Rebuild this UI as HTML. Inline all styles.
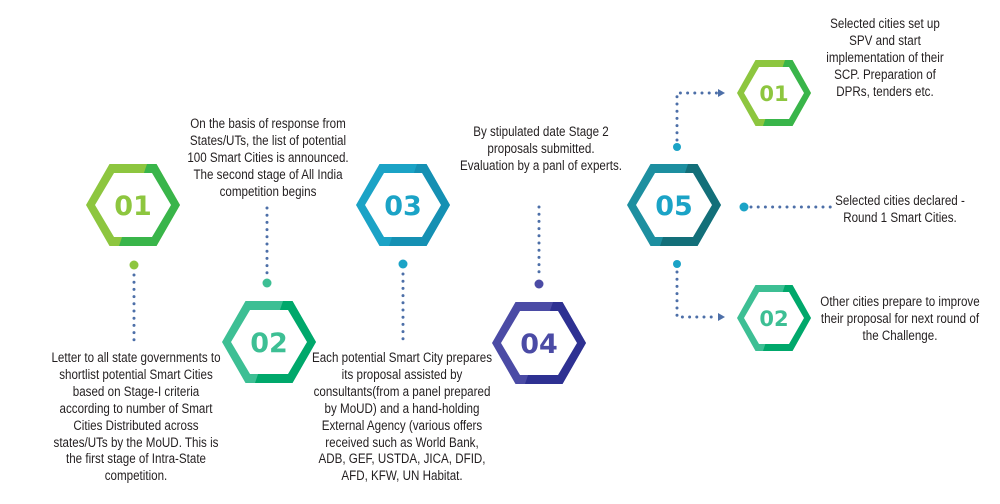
<!DOCTYPE html>
<html><head><meta charset="utf-8"><style>
html,body{margin:0;padding:0;background:#fff;}
#w{position:relative;width:1000px;height:504px;overflow:hidden;font-family:"Liberation Sans",sans-serif;}
.t{position:absolute;text-align:center;font-size:13.5px;line-height:16.9px;color:#231f20;white-space:nowrap;transform:scaleX(0.86);transform-origin:center top;}
svg{position:absolute;left:0;top:0;}
</style></head><body><div id="w">
<svg width="1000" height="504" viewBox="0 0 1000 504">
<g fill="none" stroke="#4d6fa8" stroke-width="3" stroke-linecap="round" stroke-dasharray="0 7.2">
<line x1="134" y1="275" x2="134" y2="340"/>
<line x1="267" y1="208" x2="267" y2="275"/>
<line x1="403" y1="274" x2="403" y2="342"/>
<line x1="539" y1="207" x2="539" y2="276"/>
<polyline points="677,140 677,93 718,93"/>
<line x1="751" y1="207" x2="832" y2="207"/>
<polyline points="677,272 677,317 718,317"/>
</g>
<g fill="#4d6fa8"><polygon points="718,89 725,93 718,97"/><polygon points="718,313 725,317 718,321"/></g>
<circle cx="134" cy="265" r="4.5" fill="#8dc63f"/>
<circle cx="267" cy="283" r="4.5" fill="#3dbf94"/>
<circle cx="403" cy="264" r="4.5" fill="#1ba3c6"/>
<circle cx="539" cy="284" r="4.5" fill="#4b4ba5"/>
<circle cx="677" cy="147" r="4" fill="#1ba3c6"/>
<circle cx="744" cy="207" r="4.5" fill="#1ba3c6"/>
<circle cx="677" cy="264" r="4" fill="#1ba3c6"/>

<polygon points="86,205 109.5,164 156.5,164 180,205 156.5,246 109.5,246" fill="#8dc63f"/>
<polygon points="147,164 156.5,164 180,205 156.5,246 119,246" fill="#39b54a"/>
<polygon points="95,205 114,173 152,173 171,205 152,237 114,237" fill="#fff"/>

<polygon points="222,342 245.5,301 292.5,301 316,342 292.5,383 245.5,383" fill="#3dbf94"/>
<polygon points="283,301 292.5,301 316,342 292.5,383 255,383" fill="#00a86b"/>
<polygon points="231,342 250,310 288,310 307,342 288,374 250,374" fill="#fff"/>

<polygon points="356,205 379.5,164 426.5,164 450,205 426.5,246 379.5,246" fill="#1ba3c6"/>
<polygon points="417,164 426.5,164 450,205 426.5,246 389,246" fill="#1590b3"/>
<polygon points="365,205 384,173 422,173 441,205 422,237 384,237" fill="#fff"/>

<polygon points="492,343 515.5,302 562.5,302 586,343 562.5,384 515.5,384" fill="#4b4ba5"/>
<polygon points="553,302 562.5,302 586,343 562.5,384 525,384" fill="#2e3192"/>
<polygon points="501,343 520,311 558,311 577,343 558,375 520,375" fill="#fff"/>

<polygon points="627,205 650.5,164 697.5,164 721,205 697.5,246 650.5,246" fill="#1d8fa0"/>
<polygon points="688,164 697.5,164 721,205 697.5,246 660,246" fill="#136f79"/>
<polygon points="636,205 655,173 693,173 712,205 693,237 655,237" fill="#fff"/>

<polygon points="737,93 755.5,60 792.5,60 811,93 792.5,126 755.5,126" fill="#8dc63f"/>
<polygon points="785,60 792.5,60 811,93 792.5,126 763,126" fill="#39b54a"/>
<polygon points="744,93 759,67 789,67 804,93 789,119 759,119" fill="#fff"/>

<polygon points="737,318 755.5,285 792.5,285 811,318 792.5,351 755.5,351" fill="#3dbf94"/>
<polygon points="785,285 792.5,285 811,318 792.5,351 763,351" fill="#00a86b"/>
<polygon points="744,318 759,292 789,292 804,318 789,344 759,344" fill="#fff"/>

<g font-family="DejaVu Sans, sans-serif" font-weight="bold" text-anchor="middle">
<text x="133" y="215" font-size="27" fill="#8dc63f">01</text>
<text x="269" y="352" font-size="27" fill="#3dbf94">02</text>
<text x="403" y="215" font-size="27" fill="#1ba3c6">03</text>
<text x="539" y="353" font-size="27" fill="#4b4ba5">04</text>
<text x="674" y="215" font-size="27" fill="#1ba3c6">05</text>
<text x="774" y="101" font-size="21" fill="#8dc63f">01</text>
<text x="774" y="326" font-size="21" fill="#3dbf94">02</text>
</g>
</svg>
<div class="t" style="left:36px;width:200px;top:350px">Letter to all state governments to<br>shortlist potential Smart Cities<br>based on Stage-I criteria<br>according to number of Smart<br>Cities Distributed across<br>states/UTs by the MoUD. This is<br>the first stage of Intra-State<br>competition.</div>
<div class="t" style="left:168px;width:200px;top:116px">On the basis of response from<br>States/UTs, the list of potential<br>100 Smart Cities is announced.<br>The second stage of All India<br>competition begins</div>
<div class="t" style="left:292px;width:220px;top:350px">Each potential Smart City prepares<br>its proposal assisted by<br>consultants(from a panel prepared<br>by MoUD) and a hand-holding<br>External Agency (various offers<br>received such as World Bank,<br>ADB, GEF, USTDA, JICA, DFID,<br>AFD, KFW, UN Habitat.</div>
<div class="t" style="left:431px;width:220px;top:124px">By stipulated date Stage 2<br>proposals submitted.<br>Evaluation by a panl of experts.</div>
<div class="t" style="left:795px;width:180px;top:16px">Selected cities set up<br>SPV and start<br>implementation of their<br>SCP. Preparation of<br>DPRs, tenders etc.</div>
<div class="t" style="left:800px;width:200px;top:193px">Selected cities declared -<br>Round 1 Smart Cities.</div>
<div class="t" style="left:800px;width:200px;top:294px">Other cities prepare to improve<br>their proposal for next round of<br>the Challenge.</div>
</div></body></html>
